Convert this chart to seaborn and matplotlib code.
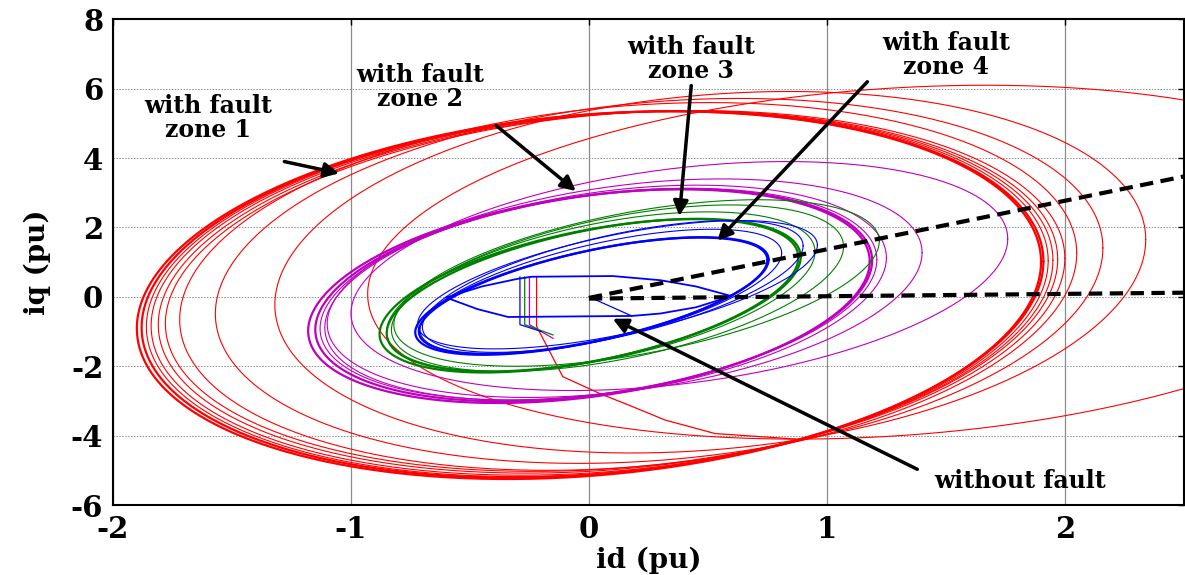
import numpy as np
import pandas as pd
import matplotlib
matplotlib.use("Agg")
import matplotlib.pyplot as plt
import seaborn as sns

# dq current trajectories, read off the picture as ellipses:
# id = cx + A*cos(t), iq = cy + B*cos(t - phase)
red_cx = [0.0, 0.015, 0.035, 0.055, 0.08, 0.11, 0.165, 0.295, 0.51, 1.27]
red_cy = [0.05, 0.07, 0.09, 0.11, 0.14, 0.17, 0.30, 0.46, 0.71, 1.0]
red_a = [1.90, 1.895, 1.895, 1.895, 1.89, 1.89, 1.885, 1.865, 1.83, 2.2]
red_b = [5.30, 5.28, 5.27, 5.25, 5.22, 5.20, 5.30, 5.26, 5.21, 5.10]
red_phase = [79.6] * 10
red_thick = [1, 1, 0, 0, 0, 0, 0, 0, 0, 0]

mag_cx = [0.0, 0.02, 0.04, 0.07, 0.15, 0.38]
mag_cy = [0.02, 0.05, 0.08, 0.12, 0.25, 0.60]
mag_a = [1.18, 1.17, 1.17, 1.18, 1.25, 1.38]
mag_b = [3.08, 3.06, 3.05, 3.10, 3.15, 3.30]
mag_phase = [71] * 6
mag_thick = [1, 1, 0, 0, 0, 0]

grn_cx = [0.0, 0.02, 0.05, 0.12, 0.20]
grn_cy = [0.03, 0.05, 0.15, 0.25, 0.40]
grn_a = [0.88, 0.87, 0.90, 0.95, 1.02]
grn_b = [2.21, 2.20, 2.30, 2.40, 2.40]
grn_phase = [60] * 5
grn_thick = [1, 1, 0, 0, 0]

blu_cx = [0.01, 0.02, 0.05, 0.10, 0.12]
blu_cy = [0.02, 0.04, 0.15, 0.30, 0.35]
blu_a = [0.74, 0.735, 0.76, 0.80, 0.84]
blu_b = [1.69, 1.68, 1.80, 1.90, 1.85]
blu_phase = [52] * 5
blu_thick = [1, 1, 0, 0, 0]

# steady state without fault
nf_id = [-0.6, -0.45, -0.3, -0.24, 0.1, 0.3, 0.45, 0.6, 0.45, 0.3, 0.18, -0.34, -0.47, -0.6]
nf_iq = [-0.02, 0.3, 0.52, 0.58, 0.6, 0.48, 0.3, 0.02, -0.3, -0.48, -0.55, -0.58, -0.35, -0.02]
nf_diag_id = [0.0, 0.18]
nf_diag_iq = [0.0, -0.55]

# fault onset segments (vertical drop from the no-fault orbit)
start_id = {"red": [-0.22, -0.22, -0.11, 0.05, 0.16, 0.32, 0.53, 0.87],
            "magenta": [-0.25, -0.25, -0.15],
            "green": [-0.27, -0.27, -0.15],
            "blue": [-0.29, -0.29, -0.2]}
start_iq = {"red": [0.58, -0.85, -2.3, -2.8, -3.1, -3.55, -3.94, -4.1],
            "magenta": [0.58, -0.8, -1.2],
            "green": [0.58, -0.8, -1.1],
            "blue": [0.58, -0.8, -1.0]}

# dashed boundaries
dash_id = [0.0, 2.5]
dash_up = [-0.03, 3.47]
dash_low = [-0.05, 0.12]

colors = {"red": "#ff0000", "magenta": "#bf00bf", "green": "#008000", "blue": "#0000ff"}

zones = {
    "red": (red_cx, red_cy, red_a, red_b, red_phase, red_thick),
    "magenta": (mag_cx, mag_cy, mag_a, mag_b, mag_phase, mag_thick),
    "green": (grn_cx, grn_cy, grn_a, grn_b, grn_phase, grn_thick),
    "blue": (blu_cx, blu_cy, blu_a, blu_b, blu_phase, blu_thick),
}

t = np.linspace(0, 2 * np.pi, 500)
rows = []
for zone, (cx, cy, a, b, ph, th) in zones.items():
    for k in range(len(cx)):
        d = np.deg2rad(ph[k])
        rows.append(pd.DataFrame({
            "id": cx[k] + a[k] * np.cos(t),
            "iq": cy[k] + b[k] * np.cos(t - d),
            "zone": zone, "curve": f"{zone}{k}", "thick": th[k],
        }))
df = pd.concat(rows, ignore_index=True)

sns.set_style("white")
plt.rcParams["font.family"] = ["DejaVu Serif"]
plt.rcParams["font.weight"] = "bold"
plt.rcParams["axes.unicode_minus"] = False
for key in ["text.color", "axes.labelcolor", "xtick.color", "ytick.color"]:
    plt.rcParams[key] = "black"

fig = plt.figure(figsize=(11.85, 5.75), dpi=100)
ax = fig.add_axes([0.0954, 0.1217, 0.9036, 0.8447])

line_kw = dict(estimator=None, sort=False, ax=ax, legend=False)
for zone in ["red", "magenta", "green", "blue"]:
    sub = df[df["zone"] == zone]
    thin = sub[sub["thick"] == 0]
    thick = sub[sub["thick"] == 1]
    sns.lineplot(data=thin, x="id", y="iq", units="curve", color=colors[zone], lw=0.8, **line_kw)
    sns.lineplot(data=thick, x="id", y="iq", units="curve", color=colors[zone], lw=1.6, **line_kw)
    sns.lineplot(x=start_id[zone], y=start_iq[zone], color=colors[zone], lw=0.9, **line_kw)

sns.lineplot(x=nf_id, y=nf_iq, color="#0000ff", lw=1.3, **line_kw)
sns.lineplot(x=nf_diag_id, y=nf_diag_iq, color="#0000ff", lw=0.9, **line_kw)

for yy in (dash_up, dash_low):
    sns.lineplot(x=dash_id, y=yy, color="black", lw=3, dashes=False, **line_kw)
for ln in ax.lines[-2:]:
    ln.set_linestyle((0, (3.2, 1.8)))
    ln.set_zorder(5)

ax.set_xlim(-2, 2.5)
ax.set_ylim(-6, 8)
ax.set_xticks([-2, -1, 0, 1, 2])
ax.set_yticks([-6, -4, -2, 0, 2, 4, 6, 8])
ax.grid(axis="x", color="0.55", lw=0.9, ls="-")
ax.grid(axis="y", color="0.55", lw=0.7, ls=(0, (1.5, 1.5)))
ax.set_axisbelow(True)
for s in ax.spines.values():
    s.set_color("black")
    s.set_linewidth(1.5)
ax.tick_params(direction="in", top=True, right=True, length=4, width=1,
               labelsize=21, pad=7)
for lab in ax.get_xticklabels() + ax.get_yticklabels():
    lab.set_fontweight("bold")
ax.set_xlabel("id (pu)", fontsize=20, fontweight="bold", labelpad=2)
ax.set_ylabel("iq (pu)", fontsize=20, fontweight="bold", labelpad=14)

arrow = dict(arrowstyle="-|>", lw=2.5, color="black", mutation_scale=22, shrinkA=0, shrinkB=0)
notes = [
    ("with fault\nzone 1", (-1.60, 5.15), (-1.28, 3.90), (-1.05, 3.56)),
    ("with fault\nzone 2", (-0.71, 6.06), (-0.39, 4.94), (-0.055, 3.05)),
    ("with fault\nzone 3", (0.43, 6.87), (0.43, 6.09), (0.38, 2.33)),
    ("with fault\nzone 4", (1.50, 6.98), (1.17, 6.20), (0.54, 1.62)),
]
for txt, pos, tail, head in notes:
    ax.text(pos[0], pos[1], txt, ha="center", va="center", fontsize=17,
            fontweight="bold", linespacing=1.0)
    ax.annotate("", xy=head, xytext=tail, arrowprops=arrow)
ax.text(1.81, -5.32, "without fault", ha="center", va="center", fontsize=17, fontweight="bold")
ax.annotate("", xy=(0.10, -0.63), xytext=(1.38, -4.97), arrowprops=arrow)

fig.savefig("out.png", dpi=100)
